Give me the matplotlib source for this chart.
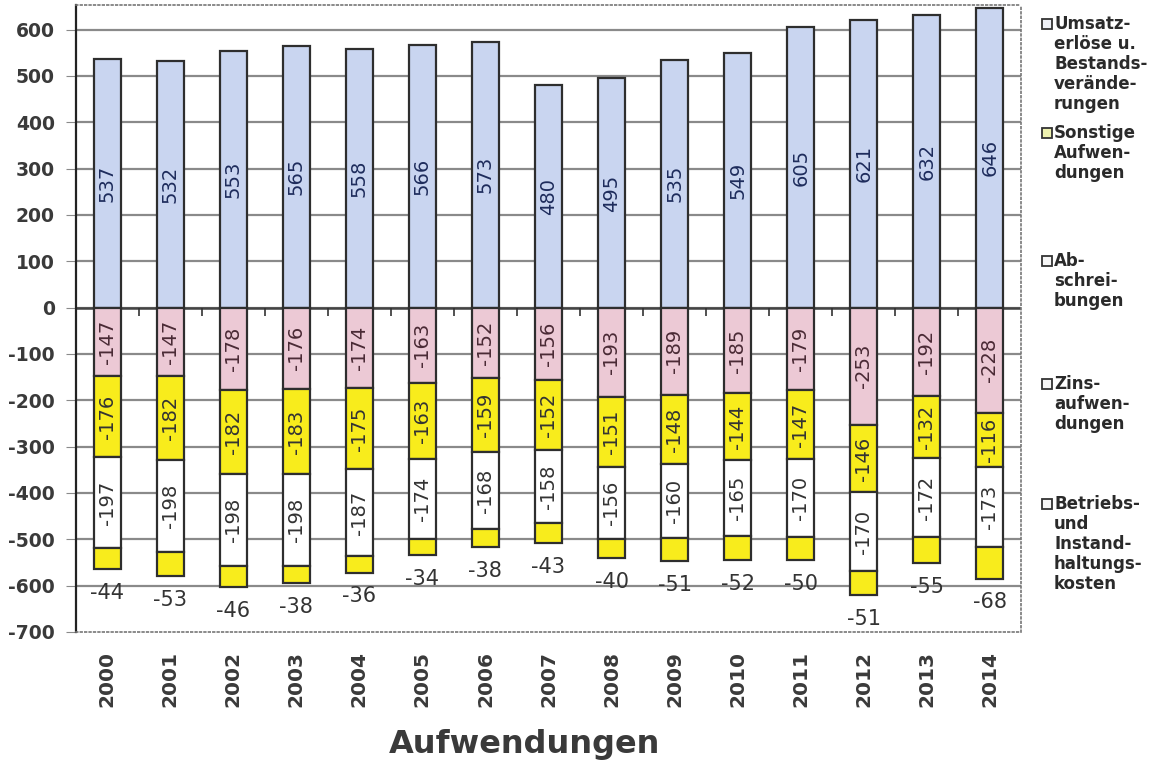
import numpy as np
import matplotlib.pyplot as plt
from matplotlib.patches import Rectangle

plt.rcParams['font.family'] = ['DejaVu Sans']
plt.rcParams['axes.unicode_minus'] = False

years = ['2000', '2001', '2002', '2003', '2004', '2005', '2006', '2007',
         '2008', '2009', '2010', '2011', '2012', '2013', '2014']
umsatz = [537, 532, 553, 565, 558, 566, 573, 480, 495, 535, 549, 605, 621, 632, 646]
abschreibungen = [-147, -147, -178, -176, -174, -163, -152, -156, -193, -189, -185, -179, -253, -192, -228]
sonstige = [-176, -182, -182, -183, -175, -163, -159, -152, -151, -148, -144, -147, -146, -132, -116]
zins = [-197, -198, -198, -198, -187, -174, -168, -158, -156, -160, -165, -170, -170, -172, -173]
betrieb = [-44, -53, -46, -38, -36, -34, -38, -43, -40, -51, -52, -50, -51, -55, -68]

legend_labels = ['Umsatz-\nerlöse u.\nBestands-\nverände-\nrungen',
                 'Sonstige\nAufwen-\ndungen',
                 'Ab-\nschrei-\nbungen',
                 'Zins-\naufwen-\ndungen',
                 'Betriebs-\nund\nInstand-\nhaltungs-\nkosten']
legend_faces = ['#eef0f6', '#eef2b0', '#f6f6f6', '#f6f6f6', '#f6f6f6']
legend_tops = [18, 127, 255, 378, 498]   # pixel rows of the first legend lines

c_blue = '#c9d5f0'
c_pink = '#ecc9d5'
c_yellow = '#f8ec1c'
c_white = '#ffffff'
edge = '#2e2e2e'

W, H = 1162, 764
fig = plt.figure(figsize=(W / 100, H / 100), dpi=100)
ax = fig.add_axes([0.065, 0.173, 0.814, 0.821])

x = np.arange(len(years))
w = 0.43

# horizontal grid behind the bars
for yv in range(-600, 700, 100):
    ax.axhline(yv, color='#8a8a8a', lw=1.6, zorder=0)
ax.axhline(0, color='#444444', lw=1.8, zorder=0)

ax.bar(x, umsatz, w, color=c_blue, edgecolor=edge, lw=1.6, zorder=2)

bottom = np.zeros(len(years))
segments = [(abschreibungen, c_pink, '#4a2a35'),
            (sonstige, c_yellow, '#333333'),
            (zins, c_white, '#333333')]
for vals, col, tcol in segments:
    vals = np.array(vals)
    ax.bar(x, vals, w, bottom=bottom, color=col, edgecolor=edge, lw=1.6, zorder=2)
    for xi, b, v in zip(x, bottom, vals):
        ax.text(xi, b + v / 2, str(v), rotation=90, ha='center', va='center',
                fontsize=14, color=tcol, zorder=3)
    bottom = bottom + vals

vals = np.array(betrieb)
ax.bar(x, vals, w, bottom=bottom, color=c_yellow, edgecolor=edge, lw=1.6, zorder=2)
for xi, b, v in zip(x, bottom, vals):
    ax.annotate(str(v), (xi, b + v), xytext=(0, -10), textcoords='offset points',
                ha='center', va='top', fontsize=15, color='#333333')

for xi, v in zip(x, umsatz):
    ax.text(xi, v / 2, str(v), rotation=90, ha='center', va='center',
            fontsize=14, color='#1e2c5c', zorder=3)

# little separator ticks on the zero line
ax.vlines(x[:-1] + 0.5, -18, 0, color='#333333', lw=1.2, zorder=1)

ax.set_xlim(-0.5, len(years) - 0.5)
ax.set_ylim(-700, 654)
ax.set_yticks(range(-700, 700, 100))
ax.set_xticks(x)
ax.set_xticklabels(years, rotation=90, fontsize=14.5, fontweight='bold', color='#3a3a3a')
ax.tick_params(axis='x', length=0, pad=14)
ax.tick_params(axis='y', length=7, color='#8a8a8a', pad=8, labelsize=13.5,
               labelcolor='#3a3a3a')
for t in ax.get_yticklabels():
    t.set_fontweight('bold')

ax.spines['left'].set_color('#222222')
ax.spines['left'].set_linewidth(1.6)
for s in ['top', 'right', 'bottom']:
    ax.spines[s].set_color('#777777')
    ax.spines[s].set_linestyle(':')
    ax.spines[s].set_linewidth(1.2)

# legend: small square next to the first line of each multi-line label
for label, face, top in zip(legend_labels, legend_faces, legend_tops):
    fig.add_artist(Rectangle((1042 / W, 1 - (top + 11) / H), 10 / W, 10 / H,
                             transform=fig.transFigure, facecolor=face,
                             edgecolor='#333333', lw=1.3))
    fig.text(1054 / W, 1 - (top - 3) / H, label, ha='left', va='top',
             fontsize=12, fontweight='bold', color='#2a2a2a', linespacing=1.15)

fig.text(525 / W, 1 - 745 / H, 'Aufwendungen', ha='center', va='center',
         fontsize=23, fontweight='bold', color='#3a3a3a')

fig.savefig('out.png', dpi=100)
